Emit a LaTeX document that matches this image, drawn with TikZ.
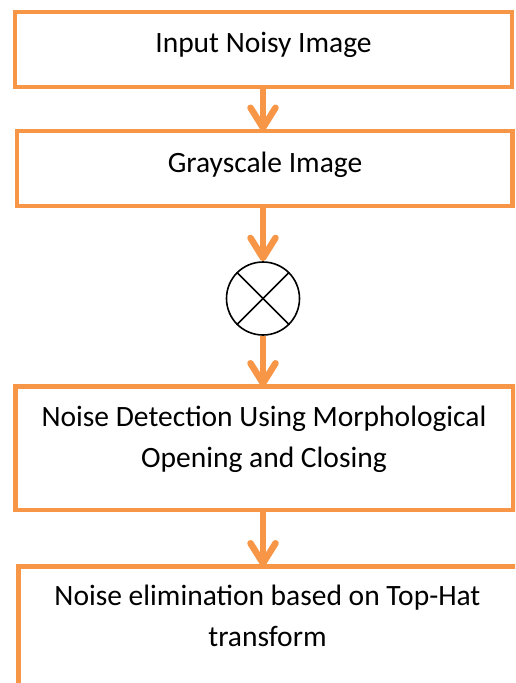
\documentclass[tikz,border=0pt]{standalone}
\usepackage{fontspec}
\setmainfont{Carlito}
\usetikzlibrary{arrows.meta}
\definecolor{accent}{HTML}{F79646}
\begin{document}
\begin{tikzpicture}[x=1pt,y=-1pt,
  box/.style={draw=accent, line width=4.2pt, rectangle, inner sep=0pt, outer sep=0pt, anchor=north west},
  lbl/.style={font=\fontsize{29.5}{41}\selectfont, align=center, anchor=base, inner sep=0pt},
  flow/.style={draw=accent, line width=6.5pt, -{Straight Barb[length=20pt, width=25pt, round]}},
]
\useasboundingbox (0,0) rectangle (515,683);
\clip (0,0) rectangle (515,683);

% process boxes
\node[box, minimum width=497pt, minimum height=75.5pt] (b1) at (15,11.7) {};
\node[box, minimum width=495.5pt, minimum height=75pt] (b2) at (17,131) {};
\node[box, minimum width=498pt, minimum height=123.5pt] (b3) at (15.5,386.5) {};
\node[box, minimum width=502pt, minimum height=160pt] (b4) at (18.5,566.5) {};

% multiplication junction
\node[draw, circle, line width=1.6pt, minimum size=73pt, inner sep=0pt] (mix) at (263,298.5) {};
\draw[line width=1.6pt] (mix.north west) -- (mix.south east);
\draw[line width=1.6pt] (mix.north east) -- (mix.south west);

% labels (base anchor sits on the last line)
\node[lbl] (t1) at (263.5,52) {Input Noisy Image};
\node[lbl] (t2) at (265,172.5) {Grayscale Image};
\node[lbl] (t3) at (264,467) {Noise Detection Using Morphological\\Opening and Closing};
\node[lbl] (t4) at (267.5,646.7) {Noise elimination based on Top-Hat\\transform};

% flow arrows
\draw[flow] (b1.south -| mix.center) -- (b2.north -| mix.center);
\draw[flow] (b2.south -| mix.center) -- (mix.north);
\draw[flow] (mix.south) -- (b3.north -| mix.center);
\draw[flow] (b3.south -| mix.center) -- (b4.north -| mix.center);
\end{tikzpicture}
\end{document}
